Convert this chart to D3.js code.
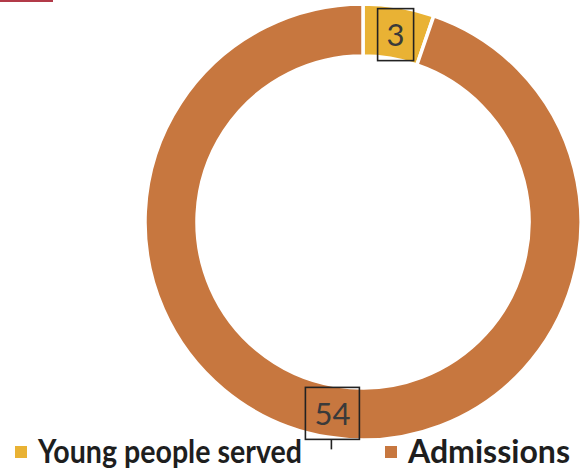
<!DOCTYPE html>
<html>
<head>
<meta charset="utf-8">
<script src="https://cdn.jsdelivr.net/npm/d3@7"></script>
<style>
  body { margin: 0; background: #fff; }
  svg { display: block; }
</style>
</head>
<body>
<div id="chart"></div>
<script>
const categories = ["Young people served", "Admissions"];
const values = [3, 54];
const colors = ["#E9B234", "#C7773F"];

const w = 585;
const h = 472;
const cx = 363, cy = 222;
const outerR = 218, innerR = 166;

const svg = d3.select("#chart").append("svg")
  .attr("width", w)
  .attr("height", h);

// bit of red scan edge at top left
svg.append("rect")
  .attr("x", 0).attr("y", 0)
  .attr("width", 53).attr("height", 2)
  .attr("fill", "#b23a48");

const pie = d3.pie().sort(null)(values);
const arc = d3.arc().innerRadius(innerR).outerRadius(outerR);

const g = svg.append("g")
  .attr("transform", "translate(" + cx + "," + cy + ")");

g.selectAll("path.slice")
  .data(pie)
  .enter()
  .append("path")
  .attr("class", "slice")
  .attr("d", arc)
  .attr("fill", (d, i) => colors[i])
  .attr("stroke", "#fff")
  .attr("stroke-width", 3.5);

// data labels with boxes
const boxW = [36, 54];
const boxH = 52;
const labels = g.selectAll("g.lbl")
  .data(pie)
  .enter()
  .append("g")
  .attr("class", "lbl")
  .attr("transform", d => {
    const c = arc.centroid(d);
    return "translate(" + (c[0] + 1) + "," + (c[1] + 2) + ")";
  });

labels.append("rect")
  .attr("x", (d, i) => -boxW[i] / 2)
  .attr("y", -boxH / 2)
  .attr("width", (d, i) => boxW[i])
  .attr("height", boxH)
  .attr("fill", "none")
  .attr("stroke", "#222")
  .attr("stroke-width", 1.6);

labels.append("text")
  .attr("text-anchor", "middle")
  .attr("dy", "0.36em")
  .attr("font-family", "Lato, 'Open Sans', sans-serif")
  .attr("font-size", 31)
  .attr("fill", "#3a3a3a")
  .text(d => d.value);

// short leader under the 54 box
labels.filter((d, i) => i === 1)
  .append("line")
  .attr("x1", -1).attr("x2", -1)
  .attr("y1", boxH / 2).attr("y2", boxH / 2 + 10)
  .attr("stroke", "#222")
  .attr("stroke-width", 1.6);

// legend
const legX = [15, 385];
const legTextLen = [264, 162];
const leg = svg.selectAll("g.legend")
  .data(categories)
  .enter()
  .append("g")
  .attr("class", "legend")
  .attr("transform", (d, i) => "translate(" + legX[i] + ",446)");

leg.append("rect")
  .attr("width", 12)
  .attr("height", 12)
  .attr("fill", (d, i) => colors[i]);

leg.append("text")
  .attr("x", 23)
  .attr("y", 17)
  .attr("font-family", "Lato, 'Open Sans', sans-serif")
  .attr("font-weight", "bold")
  .attr("font-size", 32)
  .attr("fill", "#1e1e1e")
  .attr("textLength", (d, i) => legTextLen[i])
  .attr("lengthAdjust", "spacingAndGlyphs")
  .text(d => d);
</script>
</body>
</html>
